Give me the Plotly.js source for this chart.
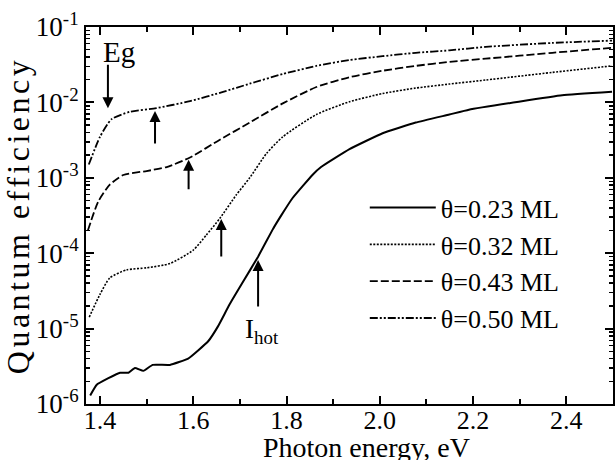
<!DOCTYPE html>
<html>
<head>
<meta charset="utf-8">
<script src="https://cdn.plot.ly/plotly-3.0.1.min.js"></script>
<style>
html,body{margin:0;padding:0;background:#fff;}
.g-ytitle text{letter-spacing:3.5px;}
</style>
</head>
<body>
<div id="chart" style="width:616px;height:460px;"></div>
<script>
// Series names
const seriesNames = ['θ=0.23 ML', 'θ=0.32 ML', 'θ=0.43 ML', 'θ=0.50 ML'];

// θ=0.23 ML
const x023 = [1.379, 1.393, 1.418, 1.443, 1.461, 1.475, 1.493, 1.513, 1.55, 1.589, 1.632, 1.653, 1.678, 1.707, 1.739, 1.771, 1.789, 1.813, 1.856, 1.874, 1.935, 2.006, 2.077, 2.149, 2.191, 2.298, 2.391, 2.498];
const y023 = [1.3e-6, 1.8e-6, 2.2e-6, 2.6e-6, 2.6e-6, 3.0e-6, 2.75e-6, 3.3e-6, 3.3e-6, 4.0e-6, 6.8e-6, 1.07e-5, 2.1e-5, 4.2e-5, 9.0e-5, 2.1e-4, 3.2e-4, 5.4e-4, 1.1e-3, 1.39e-3, 2.4e-3, 3.9e-3, 5.4e-3, 6.9e-3, 8.0e-3, 1.02e-2, 1.24e-2, 1.38e-2];

// θ=0.32 ML
const x032 = [1.377, 1.4, 1.421, 1.457, 1.5, 1.55, 1.6, 1.628, 1.657, 1.692, 1.721, 1.757, 1.792, 1.864, 1.935, 2.006, 2.077, 2.149, 2.227, 2.37, 2.498];
const y032 = [1.42e-5, 2.85e-5, 4.7e-5, 6.0e-5, 6.4e-5, 7.3e-5, 1.1e-4, 1.74e-4, 2.9e-4, 5.9e-4, 1.0e-3, 2.1e-3, 3.5e-3, 6.9e-3, 1.02e-2, 1.31e-2, 1.55e-2, 1.75e-2, 1.98e-2, 2.5e-2, 3.05e-2];

// θ=0.43 ML
const x043 = [1.374, 1.396, 1.421, 1.45, 1.5, 1.543, 1.593, 1.657, 1.721, 1.792, 1.864, 1.935, 2.006, 2.077, 2.149, 2.227, 2.37, 2.498];
const y043 = [2.0e-4, 4.8e-4, 8.1e-4, 1.09e-3, 1.23e-3, 1.39e-3, 1.86e-3, 3.2e-3, 5.4e-3, 9.7e-3, 1.6e-2, 2.16e-2, 2.63e-2, 3.05e-2, 3.44e-2, 3.8e-2, 4.55e-2, 5.3e-2];

// θ=0.50 ML
const x050 = [1.376, 1.4, 1.425, 1.464, 1.521, 1.593, 1.664, 1.721, 1.792, 1.864, 1.935, 2.006, 2.077, 2.149, 2.227, 2.37, 2.498];
const y050 = [1.5e-3, 3.5e-3, 6.0e-3, 7.5e-3, 8.4e-3, 1.04e-2, 1.38e-2, 1.77e-2, 2.38e-2, 3.05e-2, 3.65e-2, 4.1e-2, 4.55e-2, 4.9e-2, 5.45e-2, 6.15e-2, 6.6e-2];

// Tick labels
const xTickVals = [1.4, 1.6, 1.8, 2.0, 2.2, 2.4];
const xTickText = ['1.4', '1.6', '1.8', '2.0', '2.2', '2.4'];
const yTickVals = [1e-6, 1e-5, 1e-4, 1e-3, 1e-2, 1e-1];
const yTickText = ['10<sup>-6</sup>', '10<sup>-5</sup>', '10<sup>-4</sup>', '10<sup>-3</sup>', '10<sup>-2</sup>', '10<sup>-1</sup>'];
const xTitle = 'Photon energy, eV';
const yTitle = 'Quantum efficiency';

const FONT = 'Liberation Serif';

const traces = [
  {x: x023, y: y023, name: seriesNames[0], mode: 'lines', line: {color: '#000', width: 2, dash: 'solid', shape: 'spline', smoothing: 0.35}},
  {x: x032, y: y032, name: seriesNames[1], mode: 'lines', line: {color: '#000', width: 1.6, dash: '2px,1.5px', shape: 'spline', smoothing: 0.6}},
  {x: x043, y: y043, name: seriesNames[2], mode: 'lines', line: {color: '#000', width: 1.8, dash: '8px,3px', shape: 'spline', smoothing: 0.6}},
  {x: x050, y: y050, name: seriesNames[3], mode: 'lines', line: {color: '#000', width: 1.8, dash: '8px,2px,2px,2px,2px,2px', shape: 'spline', smoothing: 0.6}}
];

function arrow(x, ylog, ay) {
  return {x: x, y: ylog, xref: 'x', yref: 'y', text: '', showarrow: true,
          arrowhead: 2, arrowsize: 1.1, arrowwidth: 2, arrowcolor: '#000',
          ax: 0, ay: ay, standoff: 0, startstandoff: 0};
}

const layout = {
  width: 616, height: 460,
  margin: {l: 86, r: 3, t: 27, b: 56, pad: 0},
  paper_bgcolor: '#fff', plot_bgcolor: '#fff',
  font: {family: FONT, color: '#000', size: 24},
  showlegend: true,
  legend: {x: 0.529, xanchor: 'left', y: 0.583, yanchor: 'top', bgcolor: 'rgba(0,0,0,0)',
           font: {family: FONT, size: 26, color: '#000'}, itemwidth: 66, borderwidth: 0},
  xaxis: {
    type: 'linear', range: [1.37, 2.5],
    tickmode: 'array', tickvals: xTickVals, ticktext: xTickText,
    ticks: 'inside', ticklen: 8, tickwidth: 2, tickcolor: '#000',
    showline: true, linewidth: 2, linecolor: '#000', mirror: 'allticks',
    showgrid: false, zeroline: false, ticklabelstandoff: -8,
    tickfont: {family: FONT, size: 26, color: '#000'},
    minor: {tickmode: 'linear', tick0: 1.3, dtick: 0.1, ticks: 'inside', ticklen: 5, tickwidth: 2, tickcolor: '#000', showgrid: false}
  },
  yaxis: {
    type: 'log', range: [-6, -1],
    tickmode: 'array', tickvals: yTickVals, ticktext: yTickText,
    ticks: 'inside', ticklen: 8, tickwidth: 2, tickcolor: '#000',
    showline: true, linewidth: 2, linecolor: '#000', mirror: 'allticks',
    showgrid: false, zeroline: false,
    tickfont: {family: FONT, size: 27, color: '#000'},
    minor: {dtick: 'D1', ticks: 'inside', ticklen: 4, tickwidth: 1.5, tickcolor: '#000', showgrid: false},
    title: {text: yTitle, font: {family: FONT, size: 32, color: '#000'}, standoff: 6}
  },
  annotations: [
    arrow(1.417, -2.076, -45),
    arrow(1.518, -2.114, 34),
    arrow(1.590, -2.76, 31),
    arrow(1.660, -3.547, 39),
    arrow(1.739, -4.09, 48),
    {x: 1.4406, y: -1.338, xref: 'x', yref: 'y', text: 'Eg', showarrow: false,
     font: {family: FONT, size: 29, color: '#000'}, xanchor: 'center', yanchor: 'middle'},
    {x: 1.7465, y: -5.03, xref: 'x', yref: 'y', text: 'I<sub>hot</sub>', showarrow: false,
     font: {family: FONT, size: 27, color: '#000'}, xanchor: 'center', yanchor: 'middle'},
    {x: 0.533, y: -0.1154, xref: 'paper', yref: 'paper', text: xTitle, showarrow: false,
     font: {family: FONT, size: 28, color: '#000'}, xanchor: 'center', yanchor: 'middle'}
  ]
};

Plotly.newPlot('chart', traces, layout, {displayModeBar: false, staticPlot: true});
</script>
</body>
</html>
